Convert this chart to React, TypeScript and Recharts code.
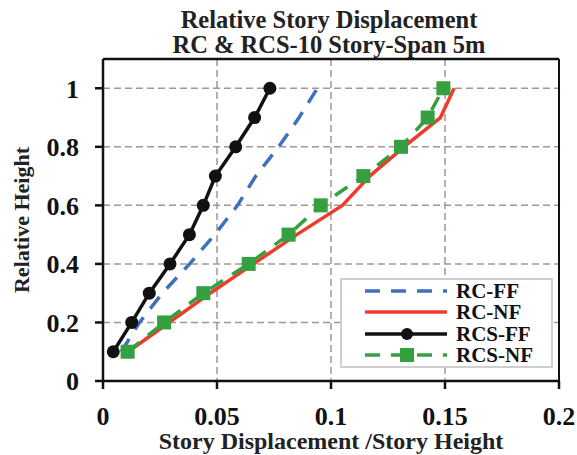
import React from "react";
import {
  LineChart,
  Line,
  XAxis,
  YAxis,
  CartesianGrid,
  ReferenceLine,
  Legend,
} from "recharts";

const heights = [0.1, 0.2, 0.3, 0.4, 0.5, 0.6, 0.7, 0.8, 0.9, 1.0];
const rcFF = [0.008, 0.016, 0.026, 0.038, 0.049, 0.059, 0.067, 0.077, 0.086, 0.094];
const rcNF = [0.011, 0.029, 0.047, 0.066, 0.085, 0.105, 0.117, 0.132, 0.148, 0.154];
const rcsFF = [0.0045, 0.0126, 0.0203, 0.0294, 0.0379, 0.044, 0.0493, 0.0582, 0.0665, 0.0732];
const rcsNF = [0.0108, 0.0268, 0.044, 0.0639, 0.0814, 0.0955, 0.1142, 0.1307, 0.1424, 0.1493];

const xTicks = [0, 0.05, 0.1, 0.15, 0.2];
const yTicks = [0, 0.2, 0.4, 0.6, 0.8, 1];

const FONT = '"Liberation Serif", "Times New Roman", serif';
const BLUE = "#3f6fbf";
const RED = "#ef3b2c";
const BLACK = "#111111";
const GREEN = "#35a040";

const toPoints = (xs: number[]) => xs.map((x, i) => ({ x, y: heights[i] }));

const SquareDot = (props: any) => {
  const { cx, cy } = props;
  if (cx == null || cy == null) return null;
  return <rect x={cx - 7} y={cy - 7} width={14} height={14} fill={GREEN} />;
};

const legendItems = [
  { name: "RC-FF", color: BLUE, dash: "15 11", marker: null },
  { name: "RC-NF", color: RED, dash: undefined, marker: null },
  { name: "RCS-FF", color: BLACK, dash: undefined, marker: "circle" },
  { name: "RCS-NF", color: GREEN, dash: "15 11", marker: "square" },
];

const renderLegend = () => (
  <div
    style={{
      width: 209,
      height: 86,
      border: "2px solid #cfcfcf",
      background: "#fff",
      fontFamily: FONT,
      fontWeight: "bold",
      fontSize: 21,
      color: "#111",
    }}
  >
    {legendItems.map((it) => (
      <div key={it.name} style={{ display: "flex", alignItems: "center", height: 21.5 }}>
        <svg width={114} height={20}>
          <line
            x1={23}
            y1={10}
            x2={105}
            y2={10}
            stroke={it.color}
            strokeWidth={3.5}
            strokeDasharray={it.dash}
          />
          {it.marker === "circle" && <circle cx={65} cy={10} r={6} fill={BLACK} />}
          {it.marker === "square" && <rect x={58} y={3} width={14} height={14} fill={GREEN} />}
        </svg>
        <span style={{ lineHeight: "20px" }}>{it.name}</span>
      </div>
    ))}
  </div>
);

export default function App() {
  const tickStyle = { fontFamily: FONT, fontWeight: "bold", fontSize: 26, fill: "#111" };
  return (
    <div style={{ position: "absolute", left: 0, top: 0, width: 577, height: 455, background: "#fff" }}>
      <div
        style={{
          position: "absolute",
          left: 101,
          top: 7,
          width: 456,
          textAlign: "center",
          fontFamily: FONT,
          fontWeight: "bold",
          fontSize: 24.5,
          lineHeight: "25px",
          color: "#222",
          zIndex: 2,
        }}
      >
        Relative Story Displacement
        <br />
        RC &amp; RCS-10 Story-Span 5m
      </div>
      <LineChart width={577} height={455} margin={{ top: 59, right: 18, left: 0, bottom: 0 }}>
        <CartesianGrid stroke="#a3978f" strokeDasharray="7 4" strokeWidth={1.5} />
        <XAxis
          type="number"
          dataKey="x"
          domain={[0, 0.2]}
          ticks={xTicks}
          tickFormatter={(v) => String(v)}
          height={74}
          tickSize={8}
          tickMargin={18}
          stroke={BLACK}
          strokeWidth={2.5}
          tick={tickStyle}
          label={{
            value: "Story Displacement /Story Height",
            position: "insideBottom",
            offset: 6,
            style: { fontFamily: FONT, fontWeight: "bold", fontSize: 24, fill: "#222" },
          }}
        />
        <YAxis
          type="number"
          domain={[0, 1.1]}
          ticks={yTicks}
          tickFormatter={(v) => String(v)}
          width={103}
          tickSize={8}
          tickMargin={16}
          stroke={BLACK}
          strokeWidth={2.5}
          tick={tickStyle}
          label={{
            value: "Relative Height",
            angle: -90,
            position: "insideLeft",
            offset: 21,
            style: { fontFamily: FONT, fontWeight: "bold", fontSize: 22, fill: "#222", textAnchor: "middle" },
          }}
        />
        <ReferenceLine y={1.1} stroke={BLACK} strokeWidth={2.5} />
        <ReferenceLine x={0.2} stroke={BLACK} strokeWidth={2} />
        <Line
          data={toPoints(rcFF)}
          dataKey="y"
          name="RC-FF"
          stroke={BLUE}
          strokeWidth={3.5}
          strokeDasharray="15 11"
          dot={false}
          isAnimationActive={false}
        />
        <Line
          data={toPoints(rcNF)}
          dataKey="y"
          name="RC-NF"
          stroke={RED}
          strokeWidth={3.5}
          dot={false}
          isAnimationActive={false}
        />
        <Line
          data={toPoints(rcsNF)}
          dataKey="y"
          name="RCS-NF"
          stroke={GREEN}
          strokeWidth={3.5}
          strokeDasharray="15 11"
          dot={<SquareDot />}
          isAnimationActive={false}
        />
        <Line
          data={toPoints(rcsFF)}
          dataKey="y"
          name="RCS-FF"
          stroke={BLACK}
          strokeWidth={3.5}
          dot={{ r: 6.5, fill: BLACK, stroke: BLACK, strokeWidth: 0 }}
          isAnimationActive={false}
        />
        <Legend
          layout="horizontal"
          align="center"
          verticalAlign="middle"
          content={renderLegend}
          wrapperStyle={{ left: 340, top: 278, width: 213, height: 90 }}
        />
      </LineChart>
    </div>
  );
}
